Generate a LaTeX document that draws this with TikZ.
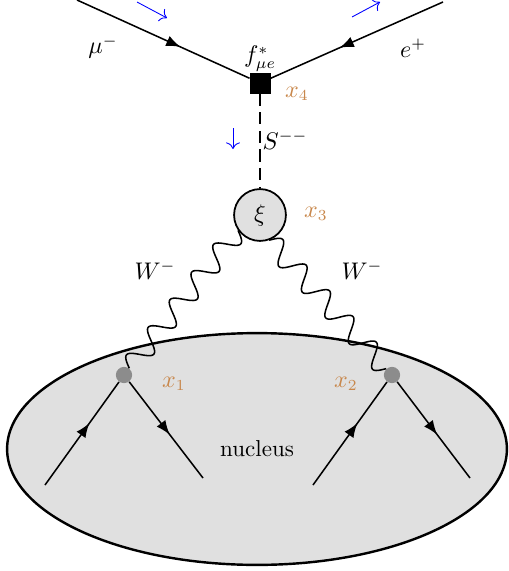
\documentclass[tikz,border=0pt]{standalone}
\usepackage{amsmath,amssymb}
\usetikzlibrary{arrows.meta,calc,decorations.markings,shapes.geometric}
\definecolor{vtxorange}{RGB}{200,135,75}
\definecolor{nucgray}{RGB}{224,224,224}
\definecolor{dotgray}{RGB}{140,140,140}

\begin{document}
\begin{tikzpicture}[x=0.016cm,y=0.016cm,>=Latex,font=\fontsize{10.5}{12}\selectfont,
    fermion/.style={line width=0.7pt,postaction={decorate},
      decoration={markings,mark=at position #1 with {\arrow{Latex[length=6.5pt,width=5pt]}}}},
    fermion/.default=0.55,
    boson/.style={line width=0.7pt,line join=round},
    scalar/.style={line width=0.7pt,dash pattern=on 5.5pt off 3pt},
    mom/.style={blue,->,>={To[length=3pt]}},
    vlabel/.style={text=vtxorange}]
  \useasboundingbox (0,0) rectangle (508,-571);
  % nucleus
  \node[draw,line width=1.1pt,ellipse,fill=nucgray,minimum width=8cm,minimum height=3.71cm,inner sep=0pt] (nucleus) at (257,-449) {nucleus};
  % vertices
  \node[draw,fill=black,rectangle,minimum size=0.32cm,inner sep=0pt] (x4) at (260,-83) {};
  \node[draw,line width=0.8pt,circle,fill=nucgray,minimum size=0.83cm,inner sep=0pt] (xi) at (260,-215) {$\xi$};
  \node[circle,fill=dotgray,minimum size=0.26cm,inner sep=0pt] (x1) at (124,-375) {};
  \node[circle,fill=dotgray,minimum size=0.26cm,inner sep=0pt] (x2) at (392,-375) {};
  % external legs
  \coordinate (mu) at (77,0);
  \coordinate (ep) at (443,-2);
  \coordinate (q1in) at (45,-485);
  \coordinate (q1out) at (203,-478);
  \coordinate (q2in) at (313,-485);
  \coordinate (q2out) at (470,-478);
  \draw[fermion=0.6] (mu) -- (x4);
  \draw[fermion=0.6] (ep) -- (x4);
  \draw[scalar] (x4) -- (xi);
  % W lines: five sine periods from the blob to the dot
  \foreach \a/\v in {215/x1,290/x2}
    \draw[boson] let \p1=($(\v)-(xi.\a)$), \n1={atan2(\y1,\x1)}, \n2={veclen(\x1,\y1)-3.7} in
      [shift={(xi.\a)},rotate=\n1,x=1pt,y=1pt]
      plot[domain=0:\n2,samples=160,variable=\t] (\t,{4.8*sin(\t/\n2*1800)});
  \draw[fermion=0.6] (q1in) -- (x1);
  \draw[fermion] (x1) -- (q1out);
  \draw[fermion=0.6] (q2in) -- (x2);
  \draw[fermion] (x2) -- (q2out);
  % momentum flow
  \draw[mom] (137,-2) -- (167,-18);
  \draw[mom] (352,-17) -- (380,-2);
  \draw[mom] (233,-128) -- (233,-149);
  % labels
  \node (lmu) at (103,-47) {$\mu^-$};
  \node (lep) at (413,-48) {$e^+$};
  \node (lf) at (260,-59) {$f^*_{\mu e}$};
  \node (ls) at (285,-140) {$S^{--}$};
  \node (lw1) at (155,-270) {$W^-$};
  \node (lw2) at (362,-270) {$W^-$};
  \node[vlabel] (lx4) at (297,-94) {$x_4$};
  \node[vlabel] (lx3) at (316,-214) {$x_3$};
  \node[vlabel] (lx1) at (174,-384) {$x_1$};
  \node[vlabel] (lx2) at (346,-384) {$x_2$};
\end{tikzpicture}
\end{document}
